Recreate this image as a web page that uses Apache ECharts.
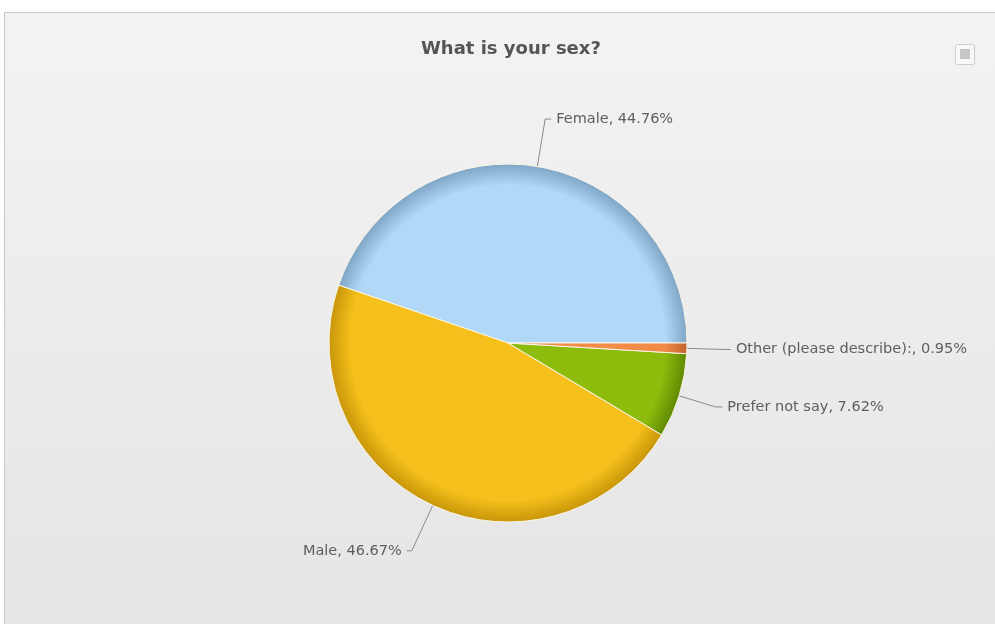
<!DOCTYPE html>
<html>
<head>
<meta charset="utf-8">
<style>
  html, body { margin: 0; padding: 0; background: #ffffff; }
  #chart { width: 995px; height: 624px; }
</style>
<script src="https://cdn.jsdelivr.net/npm/echarts@6/dist/echarts.min.js"></script>
</head>
<body>
<div id="chart"></div>
<script>
// Survey answers for "What is your sex?" (percent of respondents)
const categories = ['Female', 'Male', 'Prefer not say', 'Other (please describe):'];
const shares = [44.76, 46.67, 7.62, 0.95];
const fillColors = ['#b2d8f7', '#f5c01b', '#8dbc0d', '#f28a48'];
const edgeColors = ['#7fa6c6', '#c8960a', '#5f8a02', '#c0602a'];
// connector lengths [first segment, horizontal segment] for each label
const connectorLengths = [[48, 6], [50, 5], [38, 7], [38, 6]];

const centerX = 508, centerY = 343, radius = 179;

// Each slice shades toward its rim for a soft inset look
function sliceFill(i) {
  return {
    type: 'radial', x: centerX, y: centerY, r: radius, global: true,
    colorStops: [
      { offset: 0, color: fillColors[i] },
      { offset: 0.88, color: fillColors[i] },
      { offset: 1, color: edgeColors[i] }
    ]
  };
}

const chart = echarts.init(document.getElementById('chart'), null, { renderer: 'canvas' });

chart.setOption({
  animation: false,
  backgroundColor: '#ffffff',
  graphic: [
    {
      type: 'rect', z: -10, silent: true,
      shape: { x: 4.5, y: 12.5, width: 1100, height: 700 },
      style: {
        fill: {
          type: 'linear', x: 0, y: 0, x2: 0, y2: 1,
          colorStops: [
            { offset: 0, color: '#f3f3f3' },
            { offset: 0.88, color: '#e5e5e5' },
            { offset: 1, color: '#e4e4e4' }
          ]
        },
        stroke: '#c6c6c6', lineWidth: 1
      }
    },
    {
      // export menu button
      type: 'group', left: 955, top: 44, silent: true,
      children: [
        { type: 'rect', shape: { x: 0.5, y: 0.5, width: 19, height: 20, r: 2 },
          style: { fill: '#f8f8f8', stroke: '#cdcdcd', lineWidth: 1 } },
        { type: 'rect', shape: { x: 5, y: 5, width: 10, height: 10 },
          style: { fill: '#c6c6c6' } }
      ]
    }
  ],
  title: {
    text: 'What is your sex?',
    left: 416,
    top: 35,
    textStyle: {
      fontFamily: 'DejaVu Sans',
      fontSize: 18,
      fontWeight: 'bold',
      color: '#555555'
    }
  },
  series: [{
    type: 'pie',
    center: [centerX, centerY],
    radius: radius,
    startAngle: 0,
    clockwise: false,
    avoidLabelOverlap: false,
    emphasis: { disabled: true },
    itemStyle: { borderColor: '#fbf6e6', borderWidth: 1 },
    label: {
      show: true,
      fontFamily: 'DejaVu Sans',
      fontSize: 14.5,
      color: '#5e5e5e',
      formatter: p => p.name + ', ' + p.value.toFixed(2) + '%'
    },
    labelLine: {
      show: true,
      smooth: false,
      lineStyle: { color: '#8a8a8a', width: 1 }
    },
    data: categories.map((name, i) => ({
      name: name,
      value: shares[i],
      itemStyle: { color: sliceFill(i) },
      labelLine: { length: connectorLengths[i][0], length2: connectorLengths[i][1] }
    }))
  }]
});
</script>
</body>
</html>
